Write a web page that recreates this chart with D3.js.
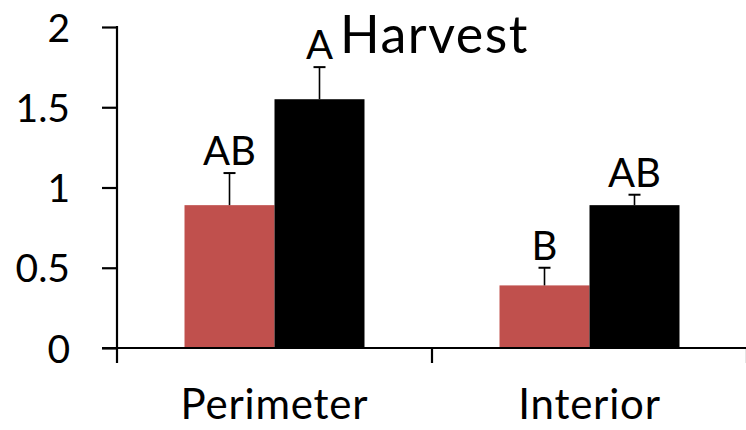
<!DOCTYPE html>
<html>
<head>
<meta charset="utf-8">
<script src="https://cdn.jsdelivr.net/npm/d3@7"></script>
<style>
  html, body { margin: 0; padding: 0; background: #fff; }
  svg { display: block; font-family: Lato, "Open Sans", sans-serif; }
</style>
</head>
<body>
<svg id="chart" width="746" height="430"></svg>
<script>
// Harvest: mean values per location and treatment, with upper error bars
const categories = ["Perimeter", "Interior"];
const series = ["red", "black"];
const redValues = [0.89, 0.39];
const blackValues = [1.55, 0.89];
const redErrors = [0.20, 0.11];
const blackErrors = [0.20, 0.065];
const redLetters = ["AB", "B"];
const blackLetters = ["A", "AB"];
const yTicks = [0, 0.5, 1, 1.5, 2];
const yTickLabels = ["0", "0.5", "1", "1.5", "2"];
const title = "Harvest";

const colors = { red: "#C0504D", black: "#000000" };

const rows = [];
categories.forEach((c, i) => {
  rows.push({ cat: c, s: "red", v: redValues[i], e: redErrors[i], letter: redLetters[i] });
  rows.push({ cat: c, s: "black", v: blackValues[i], e: blackErrors[i], letter: blackLetters[i] });
});

const svg = d3.select("#chart");
const W = 746, H = 430;
const left = 117, right = 747, zeroY = 348, topY = 27;

const x = d3.scaleBand().domain(categories).range([left, right]).paddingInner(0).paddingOuter(0);
const groupWidth = x.bandwidth() * 0.5714;
const xs = d3.scaleBand().domain(series)
  .range([(x.bandwidth() - groupWidth) / 2, (x.bandwidth() + groupWidth) / 2]);
const y = d3.scaleLinear().domain([0, 2]).range([zeroY, topY]);

// bars
svg.append("g").selectAll("rect").data(rows).join("rect")
  .attr("x", d => x(d.cat) + xs(d.s))
  .attr("y", d => y(d.v))
  .attr("width", xs.bandwidth())
  .attr("height", d => y(0) - y(d.v))
  .attr("fill", d => colors[d.s]);

// upper error bars
const eb = svg.append("g").selectAll("g").data(rows).join("g")
  .attr("transform", d => `translate(${x(d.cat) + xs(d.s) + xs.bandwidth() / 2},0)`);
eb.append("line")
  .attr("x1", 0).attr("x2", 0)
  .attr("y1", d => y(d.v)).attr("y2", d => y(d.v + d.e))
  .attr("stroke", "#000").attr("stroke-width", 1.6);
eb.append("line")
  .attr("x1", -6).attr("x2", 6)
  .attr("y1", d => y(d.v + d.e)).attr("y2", d => y(d.v + d.e))
  .attr("stroke", "#000").attr("stroke-width", 2);

// significance letters
svg.append("g").selectAll("text").data(rows).join("text")
  .attr("x", d => x(d.cat) + xs(d.s) + xs.bandwidth() / 2)
  .attr("y", d => y(d.v + d.e) - 8)
  .attr("text-anchor", "middle")
  .attr("font-size", 40)
  .attr("fill", "#000")
  .text(d => d.letter);

// y axis
const yAxis = d3.axisLeft(y).tickValues(yTicks)
  .tickFormat((d, i) => yTickLabels[i]).tickSize(15).tickPadding(32);
const gy = svg.append("g").attr("transform", `translate(${left},0)`).call(yAxis);
gy.select(".domain").remove();
gy.selectAll(".tick line").attr("stroke", "#000").attr("stroke-width", 2.2);
gy.selectAll(".tick text").attr("font-size", 39).attr("fill", "#000")
  .attr("font-family", "Lato, sans-serif").attr("dy", "0.36em");
gy.append("line").attr("x1", 0).attr("x2", 0)
  .attr("y1", y(2) - 1).attr("y2", y(0))
  .attr("stroke", "#000").attr("stroke-width", 2.2);

// x axis with category boundary ticks
const gx = svg.append("g");
gx.append("line").attr("x1", 102).attr("x2", W).attr("y1", zeroY).attr("y2", zeroY)
  .attr("stroke", "#000").attr("stroke-width", 2.2);
const bounds = categories.map(c => x(c)).concat([x(categories[categories.length - 1]) + x.bandwidth()]);
gx.selectAll("line.b").data(bounds).join("line").attr("class", "b")
  .attr("x1", d => d).attr("x2", d => d)
  .attr("y1", zeroY).attr("y2", zeroY + 15)
  .attr("stroke", "#000").attr("stroke-width", 2.2);
gx.selectAll("text").data(categories).join("text")
  .attr("x", d => x(d) + x.bandwidth() / 2)
  .attr("y", 419)
  .attr("text-anchor", "middle")
  .attr("font-size", 42)
  .attr("letter-spacing", 0.8)
  .attr("fill", "#000")
  .text(d => d);

// title
svg.append("text")
  .attr("x", 340).attr("y", 53)
  .attr("font-size", 52)
  .attr("letter-spacing", 1.5)
  .attr("fill", "#000")
  .text(title);
</script>
</body>
</html>
